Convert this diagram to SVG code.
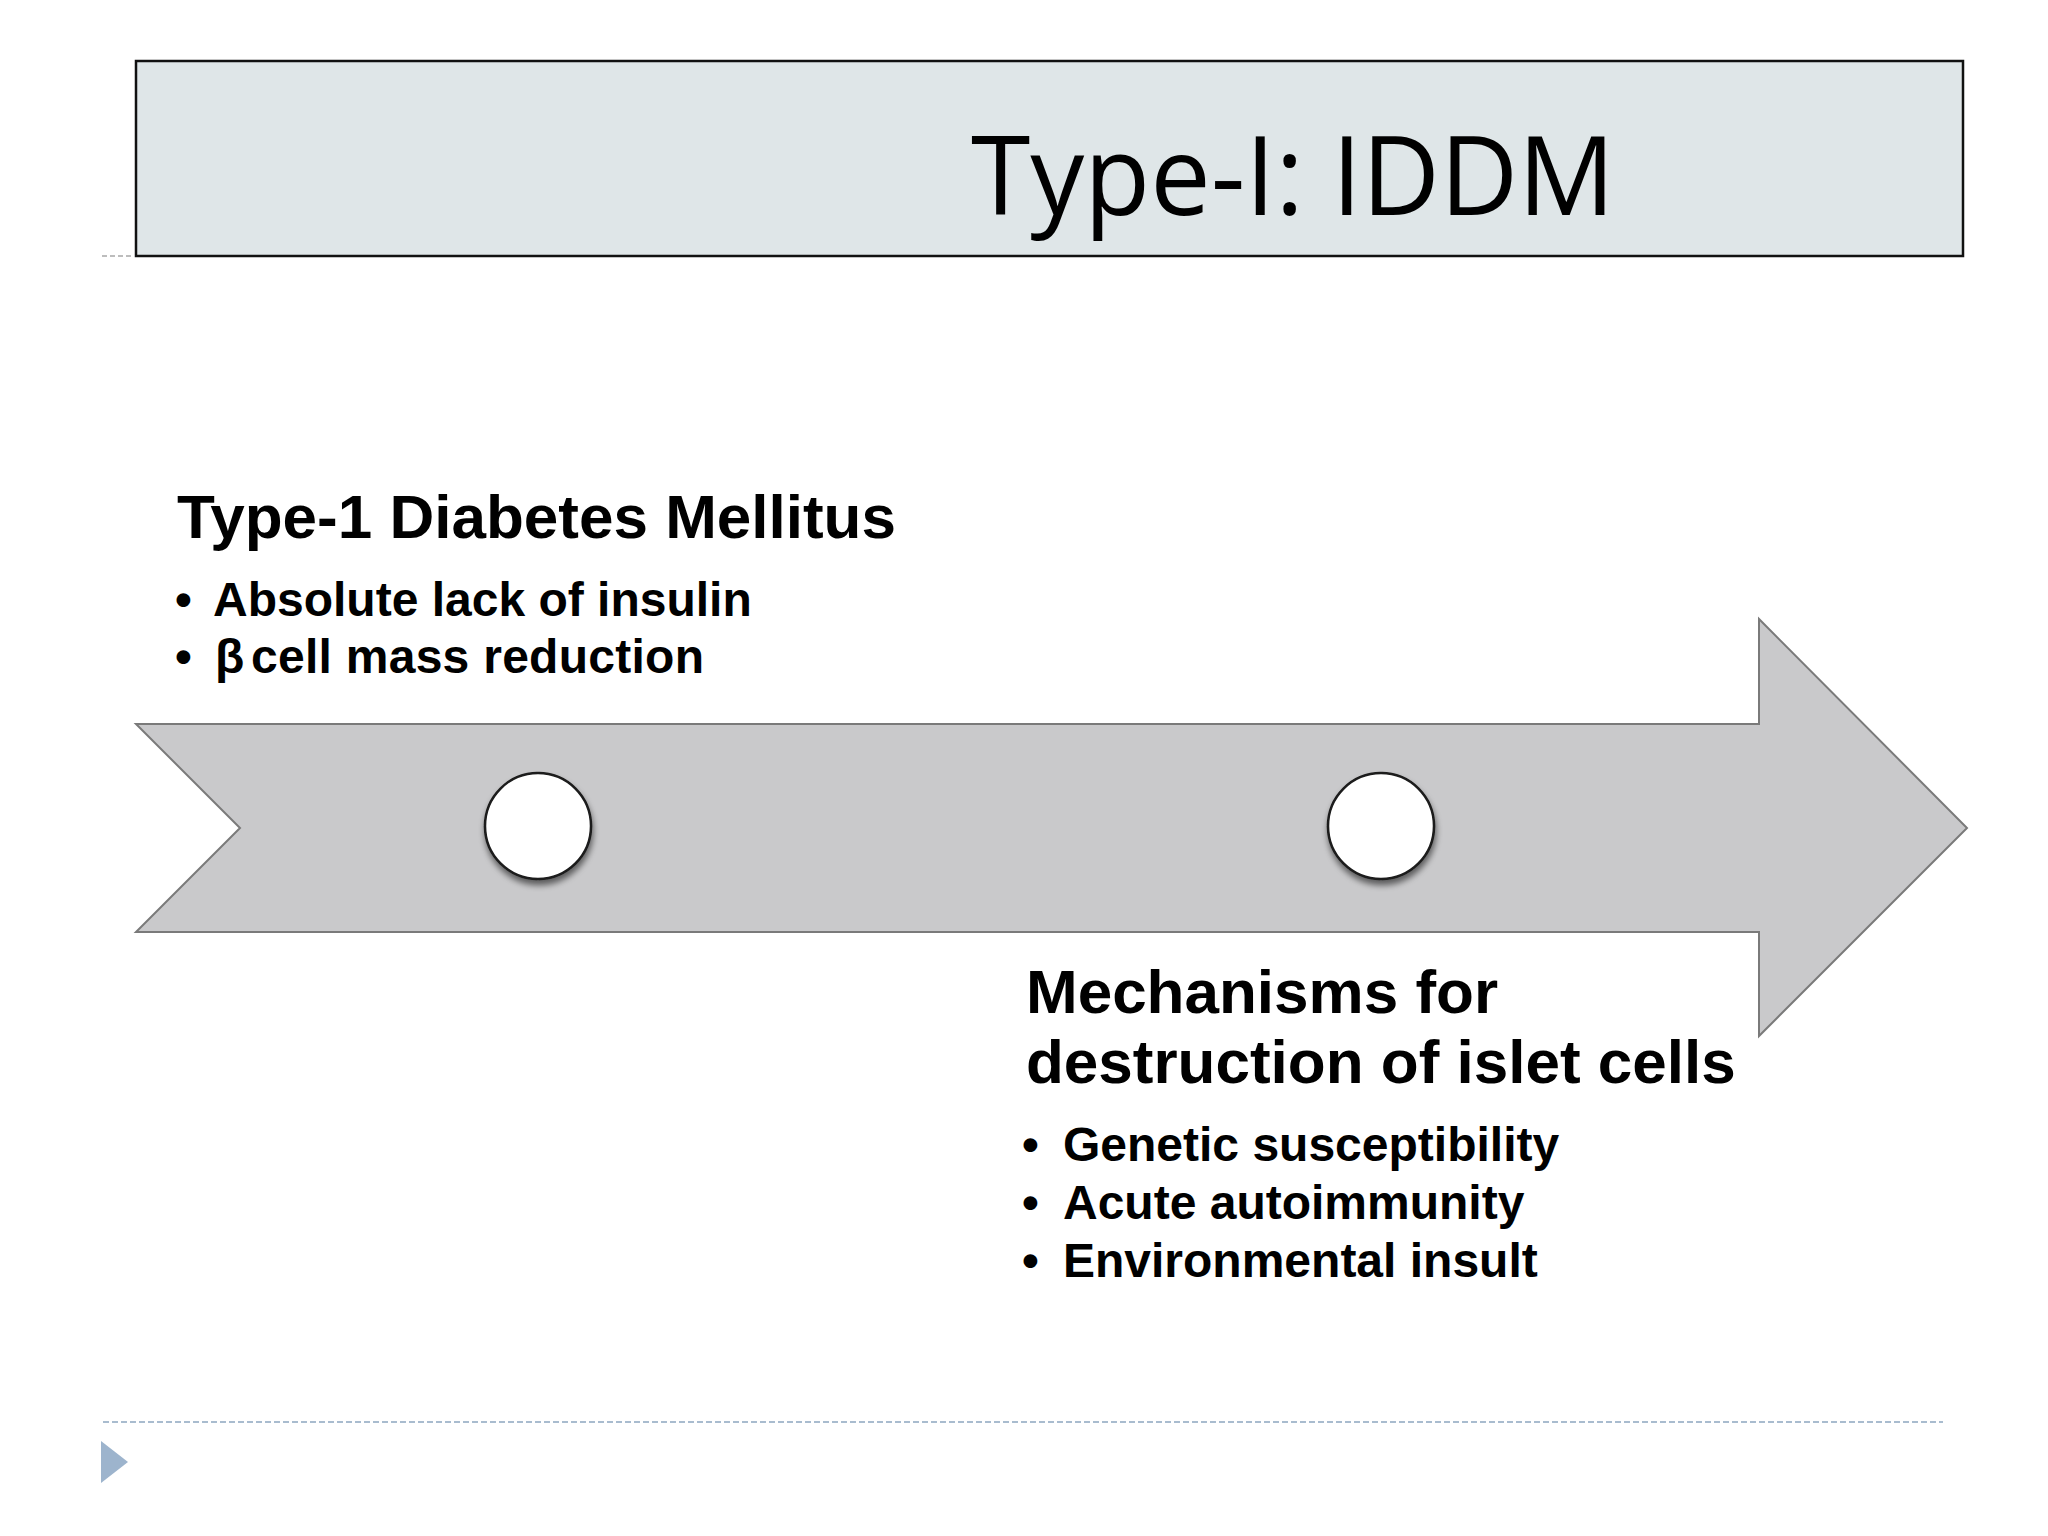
<svg xmlns="http://www.w3.org/2000/svg" width="2048" height="1536" viewBox="0 0 2048 1536">
  <defs>
    <filter id="shadow" x="-30%" y="-30%" width="160%" height="170%">
      <feGaussianBlur in="SourceAlpha" stdDeviation="3"/>
      <feOffset dx="1" dy="5" result="b"/>
      <feComponentTransfer><feFuncA type="linear" slope="0.55"/></feComponentTransfer>
      <feMerge><feMergeNode/><feMergeNode in="SourceGraphic"/></feMerge>
    </filter>
  </defs>
  <style>
    .head { font-family: "Liberation Sans", Arial, sans-serif; font-weight: bold; font-size: 62px; fill: #000; }
    .item { font-family: "Liberation Sans", Arial, sans-serif; font-weight: bold; font-size: 48px; fill: #000; }
    .dot { stroke: #1a1a1a; stroke-width: 2.5; fill: #fff; filter: url(#shadow); }
  </style>
  <rect width="2048" height="1536" fill="#ffffff"/>

  <g id="title">
    <line x1="102" y1="256" x2="134" y2="256" stroke="#a8a8a8" stroke-width="1.5" stroke-dasharray="5 3"/>
    <rect x="136" y="61" width="1827" height="195" fill="#dfe6e8" stroke="#111" stroke-width="2.5"/>
    <text x="971" y="215" font-family="'Open Sans', 'Noto Sans', sans-serif" font-size="110" textLength="644" lengthAdjust="spacingAndGlyphs" fill="#000">Type-I:  IDDM</text>
  </g>

  <g id="timeline-arrow">
    <polygon points="136,724 1759,724 1759,619 1967,828 1759,1036 1759,932 136,932 240,828" fill="#c9c9cb" stroke="#7a7a7a" stroke-width="2"/>
  </g>

  <g id="point-1">
    <circle class="dot" cx="538" cy="826" r="53"/>
  </g>
  <g id="point-2">
    <circle class="dot" cx="1381" cy="826" r="53"/>
  </g>

  <g id="label-type1">
    <text class="head" x="177" y="538">Type-1 Diabetes Mellitus</text>
    <text class="item" x="175" y="616">•</text>
    <text class="item" x="213" y="616">Absolute lack of insulin</text>
    <text class="item" x="175" y="673">•</text>
    <text class="item" x="215" y="673">β<tspan x="251" textLength="453">cell mass reduction</tspan></text>
  </g>

  <g id="label-mechanisms">
    <text class="head" x="1026" y="1013">Mechanisms for</text>
    <text class="head" x="1026" y="1083">destruction of islet cells</text>
    <text class="item" x="1022" y="1161">•</text>
    <text class="item" x="1063" y="1161">Genetic susceptibility</text>
    <text class="item" x="1022" y="1219">•</text>
    <text class="item" x="1063" y="1219">Acute autoimmunity</text>
    <text class="item" x="1022" y="1277">•</text>
    <text class="item" x="1063" y="1277">Environmental insult</text>
  </g>

  <g id="connectors"></g>

  <g id="footer">
    <line x1="103" y1="1422" x2="1943" y2="1422" stroke="#a9bccf" stroke-width="2" stroke-dasharray="6 3"/>
    <polygon points="101,1441 128,1462 101,1483" fill="#9db4cd"/>
  </g>
</svg>
